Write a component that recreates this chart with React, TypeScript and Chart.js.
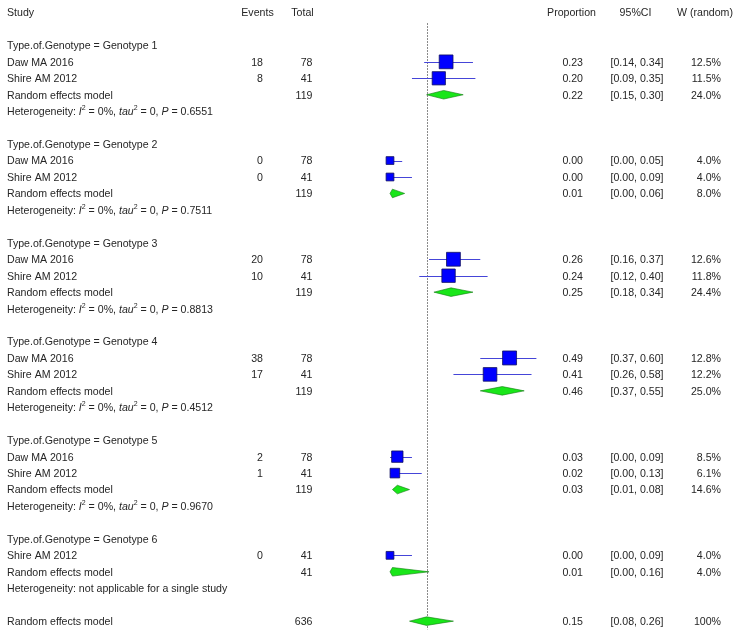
import React, { useEffect, useRef } from "react";
import { Chart, registerables } from "chart.js";

Chart.register(...registerables);

// ---------- data ----------
const groupNames = ["Genotype 1", "Genotype 2", "Genotype 3", "Genotype 4", "Genotype 5", "Genotype 6"];

const studyGroup = [0, 0, 1, 1, 2, 2, 3, 3, 4, 4, 5];
const studyLabels = [
  "Daw MA 2016", "Shire AM 2012",
  "Daw MA 2016", "Shire AM 2012",
  "Daw MA 2016", "Shire AM 2012",
  "Daw MA 2016", "Shire AM 2012",
  "Daw MA 2016", "Shire AM 2012",
  "Shire AM 2012",
];
const studyEvents = [18, 8, 0, 0, 20, 10, 38, 17, 2, 1, 0];
const studyTotals = [78, 41, 78, 41, 78, 41, 78, 41, 78, 41, 41];
const studyProp = [0.23, 0.2, 0.0, 0.0, 0.26, 0.24, 0.49, 0.41, 0.03, 0.02, 0.0];
const studyLower = [0.14, 0.09, 0.0, 0.0, 0.16, 0.12, 0.37, 0.26, 0.0, 0.0, 0.0];
const studyUpper = [0.34, 0.35, 0.05, 0.09, 0.37, 0.4, 0.6, 0.58, 0.09, 0.13, 0.09];
const studyWeight = [12.5, 11.5, 4.0, 4.0, 12.6, 11.8, 12.8, 12.2, 8.5, 6.1, 4.0];

const poolTotals = [119, 119, 119, 119, 119, 41];
const poolProp = [0.22, 0.01, 0.25, 0.46, 0.03, 0.01];
const poolLower = [0.15, 0.0, 0.18, 0.37, 0.01, 0.0];
const poolUpper = [0.3, 0.06, 0.34, 0.55, 0.08, 0.16];
const poolWeight = [24.0, 8.0, 24.4, 25.0, 14.6, 4.0];
const hetPValues = ["0.6551", "0.7511", "0.8813", "0.4512", "0.9670", ""];

const overallTotal = 636;
const overallProp = 0.15;
const overallLower = 0.08;
const overallUpper = 0.26;
const overallWeight = "100%";

// ---------- layout constants ----------
const W = 740;
const H = 637;
const ROW0 = 12.5;
const ROWH = 16.45;
const PX0 = 390; // pixel of proportion 0
const PXU = 244; // pixels per unit proportion
const TEXT_DY = 1;

const FONT = "10.6px 'Liberation Sans', Arial, sans-serif";
const FONT_I = "italic 10.6px 'Liberation Sans', Arial, sans-serif";
const FONT_SUP = "7px 'Liberation Sans', Arial, sans-serif";
const TXT = "#262626";

type Row =
  | { kind: "title"; row: number; g: number }
  | { kind: "study"; row: number; i: number }
  | { kind: "pool"; row: number; g: number }
  | { kind: "het"; row: number; g: number };

function buildRows() {
  const rows: Row[] = [];
  let r = 2;
  for (let g = 0; g < groupNames.length; g++) {
    rows.push({ kind: "title", row: r++, g });
    for (let i = 0; i < studyGroup.length; i++) {
      if (studyGroup[i] === g) rows.push({ kind: "study", row: r++, i });
    }
    rows.push({ kind: "pool", row: r++, g });
    rows.push({ kind: "het", row: r++, g });
    r++;
  }
  return { rows, overallRow: r };
}

const fmt2 = (v: number) => v.toFixed(2);

export default function App() {
  const ref = useRef<HTMLCanvasElement>(null);

  useEffect(() => {
    document.body.style.margin = "0";
    const canvas = ref.current;
    if (!canvas) return;
    const { rows, overallRow } = buildRows();

    const studyRow: number[] = [];
    const poolRow: number[] = [];
    rows.forEach((r) => {
      if (r.kind === "study") studyRow[r.i] = r.row;
      if (r.kind === "pool") poolRow[r.g] = r.row;
    });

    const squarePoints = studyProp.map((p, i) => ({ x: p, y: studyRow[i] }));
    const squareRadius = studyWeight.map((w) => (3.9 * Math.sqrt(w)) / Math.SQRT2);

    const drawRuns = (
      ctx: CanvasRenderingContext2D,
      x: number,
      y: number,
      runs: { t: string; i?: boolean; s?: boolean }[]
    ) => {
      let cx = x;
      for (const run of runs) {
        ctx.font = run.s ? FONT_SUP : run.i ? FONT_I : FONT;
        ctx.textAlign = "left";
        ctx.fillText(run.t, cx, run.s ? y - 4 : y);
        cx += ctx.measureText(run.t).width;
      }
    };

    const forestPlugin = {
      id: "forest",
      beforeDatasetsDraw(chart: any) {
        const { ctx, scales } = chart;
        const xs = scales.x;
        const ys = scales.y;
        ctx.save();
        // reference dashed line at overall estimate
        const xl = Math.round(xs.getPixelForValue(overallProp)) + 0.5;
        ctx.strokeStyle = "#8a8a8a";
        ctx.lineWidth = 1;
        ctx.setLineDash([2, 1]);
        ctx.beginPath();
        ctx.moveTo(xl, ys.getPixelForValue(0.64));
        ctx.lineTo(xl, ys.getPixelForValue(overallRow + 0.5));
        ctx.stroke();
        ctx.setLineDash([]);

        // confidence interval lines
        ctx.strokeStyle = "#4545d8";
        ctx.lineWidth = 1;
        for (let i = 0; i < studyProp.length; i++) {
          const yy = Math.round(ys.getPixelForValue(studyRow[i])) + 0.5;
          ctx.beginPath();
          ctx.moveTo(xs.getPixelForValue(studyLower[i]), yy);
          ctx.lineTo(xs.getPixelForValue(studyUpper[i]), yy);
          ctx.stroke();
        }

        // diamonds
        const diamond = (p: number, lo: number, hi: number, row: number) => {
          const yy = ys.getPixelForValue(row);
          const hh = 4.3;
          ctx.beginPath();
          ctx.moveTo(xs.getPixelForValue(lo), yy);
          ctx.lineTo(xs.getPixelForValue(p), yy - hh);
          ctx.lineTo(xs.getPixelForValue(hi), yy);
          ctx.lineTo(xs.getPixelForValue(p), yy + hh);
          ctx.closePath();
          ctx.fillStyle = "#19e619";
          ctx.fill();
          ctx.strokeStyle = "#107a10";
          ctx.lineWidth = 0.6;
          ctx.stroke();
        };
        for (let g = 0; g < poolProp.length; g++) diamond(poolProp[g], poolLower[g], poolUpper[g], poolRow[g]);
        diamond(overallProp, overallLower, overallUpper, overallRow);
        ctx.restore();
      },
      afterDraw(chart: any) {
        const { ctx, scales } = chart;
        const ys = scales.y;
        ctx.save();
        ctx.fillStyle = TXT;
        ctx.textBaseline = "middle";
        ctx.font = FONT;

        const text = (s: string, x: number, row: number, align: CanvasTextAlign) => {
          ctx.font = FONT;
          ctx.textAlign = align;
          ctx.fillText(s, x, ys.getPixelForValue(row) + TEXT_DY);
        };

        // header
        text("Study", 7, 0, "left");
        text("Events", 257.5, 0, "center");
        text("Total", 302.5, 0, "center");
        text("Proportion", 571.5, 0, "center");
        text("95%CI", 635.5, 0, "center");
        text("W (random)", 705, 0, "center");

        const rightCols = (p: number, lo: number, hi: number, w: string, row: number) => {
          text(fmt2(p), 583, row, "right");
          text(`[${fmt2(lo)}, ${fmt2(hi)}]`, 637, row, "center");
          text(w, 721, row, "right");
        };

        for (const r of rows) {
          if (r.kind === "title") {
            text(`Type.of.Genotype = ${groupNames[r.g]}`, 7, r.row, "left");
          } else if (r.kind === "study") {
            const i = r.i;
            text(studyLabels[i], 7, r.row, "left");
            text(String(studyEvents[i]), 263, r.row, "right");
            text(String(studyTotals[i]), 312.5, r.row, "right");
            rightCols(studyProp[i], studyLower[i], studyUpper[i], studyWeight[i].toFixed(1) + "%", r.row);
          } else if (r.kind === "pool") {
            text("Random effects model", 7, r.row, "left");
            text(String(poolTotals[r.g]), 312.5, r.row, "right");
            rightCols(poolProp[r.g], poolLower[r.g], poolUpper[r.g], poolWeight[r.g].toFixed(1) + "%", r.row);
          } else if (r.kind === "het") {
            const yy = ys.getPixelForValue(r.row) + TEXT_DY;
            if (hetPValues[r.g]) {
              drawRuns(ctx, 7, yy, [
                { t: "Heterogeneity: " },
                { t: "I", i: true },
                { t: "2", s: true },
                { t: " = 0%, " },
                { t: "tau", i: true },
                { t: "2", s: true },
                { t: " = 0, " },
                { t: "P", i: true },
                { t: " = " + hetPValues[r.g] },
              ]);
            } else {
              text("Heterogeneity: not applicable for a single study", 7, r.row, "left");
            }
          }
        }

        text("Random effects model", 7, overallRow, "left");
        text(String(overallTotal), 312.5, overallRow, "right");
        rightCols(overallProp, overallLower, overallUpper, overallWeight, overallRow);
        ctx.restore();
      },
    };

    const yMin = -ROW0 / ROWH;
    const yMax = yMin + H / ROWH;
    const xMin = -PX0 / PXU;
    const xMax = (W - PX0) / PXU;

    const chart = new Chart(canvas, {
      type: "scatter",
      data: {
        datasets: [
          {
            data: squarePoints,
            pointStyle: "rect",
            pointRadius: squareRadius,
            pointHoverRadius: squareRadius,
            backgroundColor: "#0000ff",
            borderColor: "#101060",
            borderWidth: 0.8,
          },
        ],
      },
      options: {
        responsive: false,
        animation: false,
        devicePixelRatio: 1,
        layout: { padding: 0, autoPadding: false },
        plugins: { legend: { display: false }, tooltip: { enabled: false } },
        events: [],
        scales: {
          x: { type: "linear", min: xMin, max: xMax, display: false },
          y: { type: "linear", min: yMin, max: yMax, reverse: true, display: false },
        },
      },
      plugins: [forestPlugin],
    });
    return () => chart.destroy();
  }, []);

  return <canvas ref={ref} width={W} height={H} style={{ display: "block" }} />;
}
